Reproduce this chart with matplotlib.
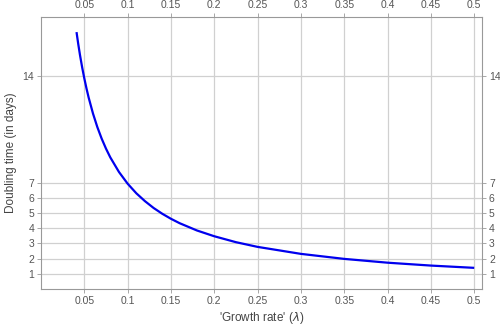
import numpy as np
import matplotlib.pyplot as plt

# growth rate lambda and the doubling time
rate = [0.041, 0.043, 0.045, 0.0475, 0.05, 0.0525, 0.055, 0.06, 0.065, 0.07,
        0.075, 0.08, 0.09, 0.1, 0.11, 0.12, 0.13, 0.14, 0.15, 0.16,
        0.18, 0.2, 0.225, 0.25, 0.3, 0.35, 0.4, 0.45, 0.5]
doubling = [16.91, 16.12, 15.40, 14.59, 13.86, 13.20, 12.60, 11.55, 10.66, 9.90,
            9.24, 8.66, 7.70, 6.93, 6.30, 5.78, 5.33, 4.95, 4.62, 4.33,
            3.85, 3.47, 3.08, 2.77, 2.31, 1.98, 1.73, 1.54, 1.39]

xticks = [0.05, 0.1, 0.15, 0.2, 0.25, 0.3, 0.35, 0.4, 0.45, 0.5]
xticklabels = ['0.05', '0.1', '0.15', '0.2', '0.25', '0.3', '0.35', '0.4', '0.45', '0.5']
yticks = [1, 2, 3, 4, 5, 6, 7, 14]

plt.rcParams['font.family'] = ['Liberation Sans', 'DejaVu Sans']

fig = plt.figure(figsize=(5, 3.28), dpi=100)
ax = fig.add_axes([0.082, 0.119, 0.882, 0.829])

ax.plot(rate, doubling, color='#0000ee', lw=1.6, solid_capstyle='butt', zorder=3)

ax.set_xlim(0.0, 0.509)
ax.set_ylim(0.0, 17.9)
ax.set_xticks(xticks)
ax.set_xticklabels(xticklabels)
ax.set_yticks(yticks)
ax.grid(True, color='#d0d0d0', lw=0.9)
ax.set_axisbelow(True)

ax.tick_params(top=True, labeltop=True, right=True, labelright=True,
               direction='out', length=3, width=0.6, color='#999999',
               labelsize=7.5, labelcolor='#555555', pad=2)
for s in ax.spines.values():
    s.set_color('#999999')
    s.set_linewidth(0.8)

ax.set_xlabel("'Growth rate' ($\\lambda$)", fontsize=8.5, color='#444444', labelpad=3)
ax.set_ylabel('Doubling time (in days)', fontsize=8.5, color='#444444', labelpad=4)

fig.savefig('out.png', dpi=100)
